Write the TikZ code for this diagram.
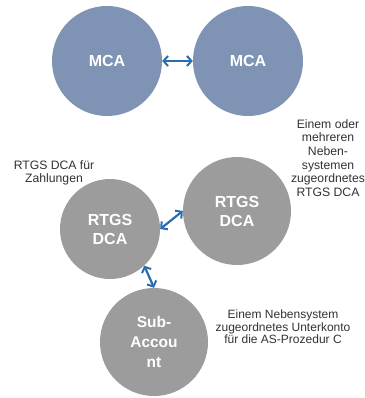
\documentclass[tikz,border=0pt]{standalone}
\usepackage{fontspec}
\setmainfont{Liberation Sans}
\usetikzlibrary{arrows.meta}
\definecolor{mcafill}{HTML}{7F93B4}
\definecolor{dcafill}{HTML}{9C9C9C}
\definecolor{linkblue}{HTML}{2B6CAE}
\definecolor{notegray}{HTML}{333333}
\begin{document}
\begin{tikzpicture}[x=1pt,y=-1pt,
  acct/.style={circle,inner sep=0pt,text=white,align=center,
    font=\fontsize{16}{19}\selectfont\bfseries},
  mcaacct/.style={acct,fill=mcafill},
  dcaacct/.style={acct,fill=dcafill},
  note/.style={align=center,text=notegray,inner sep=0pt,
    font=\fontsize{12.2}{13.7}\selectfont},
  link/.style={draw=linkblue,line width=2.2pt,
    {Straight Barb[length=4.5pt,width=10pt,line width=2pt]}-{Straight Barb[length=4.5pt,width=10pt,line width=2pt]}}]
  \useasboundingbox[fill=white] (0,0) rectangle (364,398);

  % central bank money accounts
  \node[mcaacct,minimum size=110pt] (mcaA) at (107,61) {MCA};
  \node[mcaacct,minimum size=110pt] (mcaB) at (248,61) {MCA};

  % RTGS dedicated cash accounts and sub-account
  \node[dcaacct,minimum size=100pt] (dcaPay) at (110,229) {RTGS\\DCA};
  \node[dcaacct,minimum size=108pt] (dcaAS) at (237,211) {RTGS\\DCA};
  \node[dcaacct,minimum size=108pt,font=\fontsize{15.5}{20}\selectfont\bfseries] (subAcc) at (154,342) {Sub-\\Accou\\nt};

  % links
  \draw[link] (mcaA) -- (mcaB);
  \draw[link] (dcaPay.east) -- (dcaAS.west);
  \draw[link] (dcaPay.-47) -- (subAcc.north);

  % descriptions
  \node[note] (notePay) at (54,173) {RTGS DCA für\\Zahlungen};
  \node[note] (noteAS) at (328,158) {Einem oder\\mehreren\\Neben-\\systemen\\zugeordnetes\\RTGS DCA};
  \node[note,font=\fontsize{12}{12.4}\selectfont] (noteSub) at (283,327) {Einem Nebensystem\\zugeordnetes Unterkonto\\für die AS-Prozedur C};
\end{tikzpicture}
\end{document}
